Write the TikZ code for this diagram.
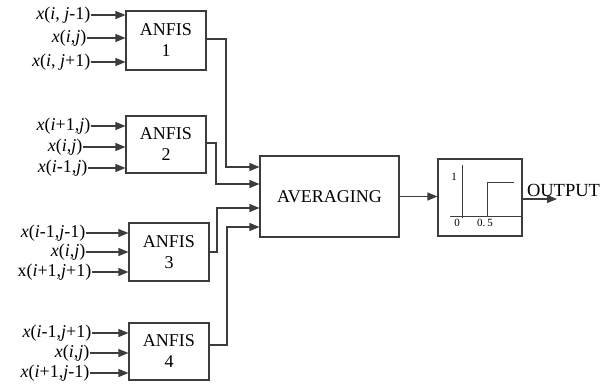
\documentclass[tikz,border=0pt]{standalone}
\usepackage{fontspec}
\setmainfont{Liberation Serif}
\usetikzlibrary{arrows.meta, positioning}
\definecolor{wiregray}{RGB}{60, 60, 60}

\begin{document}
\begin{tikzpicture}[x=1pt, y=-1pt,
  blockbox/.style={draw=wiregray, line width=1.1pt, align=center, inner sep=0pt, font=\fontsize{18}{21}\selectfont},
  inlabel/.style={anchor=east, inner sep=0.5pt, font=\fontsize{18}{19}\selectfont},
  feed/.style={draw=wiregray, line width=1.1pt, -{Triangle[length=10pt, width=8pt]}},
  plotline/.style={draw=wiregray, line width=1pt},
  ticklabel/.style={inner sep=0pt, font=\fontsize{11}{12}\selectfont}]
  \useasboundingbox (0, 0) rectangle (608, 389);

  % ANFIS blocks
  \node[blockbox, minimum width=80pt, minimum height=59pt] (anfisA) at (166, 40.5) {ANFIS\\1};
  \node[blockbox, minimum width=80pt, minimum height=57pt] (anfisB) at (166, 144.5) {ANFIS\\2};
  \node[blockbox, minimum width=80pt, minimum height=58pt] (anfisC) at (169, 252) {ANFIS\\3};
  \node[blockbox, minimum width=80pt, minimum height=57pt] (anfisD) at (169, 351.5) {ANFIS\\4};

  \node[blockbox, minimum width=139pt, minimum height=81pt] (avg) at (329.5, 196.5) {AVERAGING};
  \node[blockbox, minimum width=84pt, minimum height=77pt] (thr) at (480, 197.5) {};

  % inputs of ANFIS 1
  \node[inlabel] (inA1) at (91, 15) {\textit{x}(\textit{i}, \textit{j}-1)};
  \node[inlabel] (inA2) at (87, 38) {\textit{x}(\textit{i},\textit{j})};
  \node[inlabel] (inA3) at (91, 62) {\textit{x}(\textit{i}, \textit{j}+1)};
  \draw[feed] (inA1.east) -- (inA1.east -| anfisA.west);
  \draw[feed] (inA2.east) -- (inA2.east -| anfisA.west);
  \draw[feed] (inA3.east) -- (inA3.east -| anfisA.west);

  % inputs of ANFIS 2
  \node[inlabel] (inB1) at (91, 126) {\textit{x}(\textit{i}+1,\textit{j})};
  \node[inlabel] (inB2) at (83, 147) {\textit{x}(\textit{i},\textit{j})};
  \node[inlabel] (inB3) at (88, 168) {\textit{x}(\textit{i}-1,\textit{j})};
  \draw[feed] (inB1.east) -- (inB1.east -| anfisB.west);
  \draw[feed] (inB2.east) -- (inB2.east -| anfisB.west);
  \draw[feed] (inB3.east) -- (inB3.east -| anfisB.west);

  % inputs of ANFIS 3
  \node[inlabel] (inC1) at (86, 233) {\textit{x}(\textit{i}-1,\textit{j}-1)};
  \node[inlabel] (inC2) at (86, 252) {\textit{x}(\textit{i},\textit{j})};
  \node[inlabel] (inC3) at (92, 272) {x(\textit{i}+1,\textit{j}+1)};
  \draw[feed] (inC1.east) -- (inC1.east -| anfisC.west);
  \draw[feed] (inC2.east) -- (inC2.east -| anfisC.west);
  \draw[feed] (inC3.east) -- (inC3.east -| anfisC.west);

  % inputs of ANFIS 4
  \node[inlabel] (inD1) at (92, 333) {\textit{x}(\textit{i}-1,\textit{j}+1)};
  \node[inlabel] (inD2) at (90, 353) {\textit{x}(\textit{i},\textit{j})};
  \node[inlabel] (inD3) at (90, 373) {\textit{x}(\textit{i}+1,\textit{j}-1)};
  \draw[feed] (inD1.east) -- (inD1.east -| anfisD.west);
  \draw[feed] (inD2.east) -- (inD2.east -| anfisD.west);
  \draw[feed] (inD3.east) -- (inD3.east -| anfisD.west);

  % ANFIS outputs into averaging
  \draw[feed] (anfisA.east |- 0, 39) -| (226, 167) -- (avg.west |- 0, 167);
  \draw[feed] (anfisB.east |- 0, 143) -| (216, 184) -- (avg.west |- 0, 184);
  \draw[feed] (anfisC.east) -| (217, 208) -- (avg.west |- 0, 208);
  \draw[feed] (anfisD.east |- 0, 345) -| (227, 227) -- (avg.west |- 0, 227);

  \draw[feed] (avg.east) -- (avg.east -| thr.west);

  % threshold curve
  \draw[plotline] (462, 165) -- (462, 218);
  \draw[plotline] (450, 216) -- (521, 216);
  \draw[plotline] (487, 216) -- (487, 182) -- (514, 182);
  \node[ticklabel] (tickone) at (454, 177) {1};
  \node[ticklabel] (tickzero) at (457, 222.5) {0};
  \node[ticklabel] (tickhalf) at (485, 222.5) {0.\,5};

  % output
  \coordinate (outend) at (557, 199);
  \node[inner sep=0pt, font=\fontsize{18.5}{19}\selectfont] (outlbl) at (563.5, 190) {OUTPUT};
  \draw[feed] (thr.east |- outend) -- (outend);
\end{tikzpicture}
\end{document}
